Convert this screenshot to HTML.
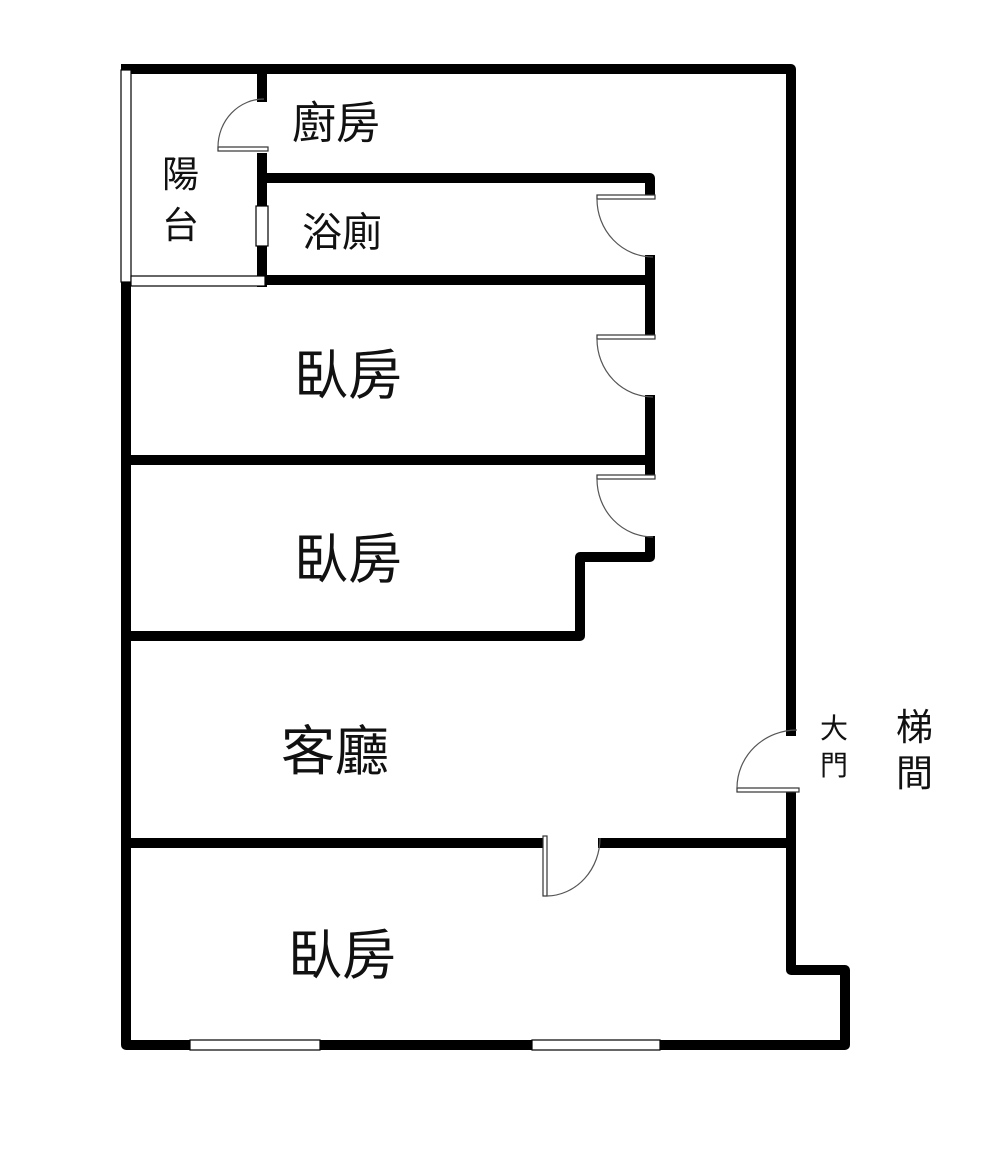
<!DOCTYPE html>
<html><head><meta charset="utf-8"><style>
html,body{margin:0;padding:0;background:#fff;}
svg{display:block}
text{font-family:"Liberation Sans","Noto Sans CJK TC",sans-serif;fill:#111}
</style></head><body>
<svg width="1000" height="1156" viewBox="0 0 1000 1156" xmlns="http://www.w3.org/2000/svg">
<g stroke="#000" stroke-width="10" fill="none" stroke-linecap="square" stroke-linejoin="round">
<path d="M126 69 H791 V731"/>
<path d="M791 796 V970 H845 V1045 H126 V286"/>
<path d="M262 69 V97"/>
<path d="M262 158 V282"/>
<path d="M267 178 H650 V193"/>
<path d="M650 260 V280 H267"/>
<path d="M650 280 V334"/>
<path d="M650 400 V460 H126"/>
<path d="M650 460 V474"/>
<path d="M650 541 V557 H580 V636 H126"/>
<path d="M126 843 H538"/>
<path d="M603 843 H791"/>
</g>
<g fill="#fff" stroke="#000" stroke-width="1.2">
<rect x="121" y="70" width="10" height="212"/>
<rect x="131" y="276" width="134" height="10"/>
<rect x="256" y="206" width="12" height="40"/>
<rect x="190" y="1040" width="130" height="10"/>
<rect x="532" y="1040" width="128" height="10"/>
</g>
<g fill="none" stroke="#555" stroke-width="1.2">
<rect x="218" y="147" width="50" height="4" fill="#fff" stroke="#333"/>
<path d="M218 147 A46 48 0 0 1 264 99"/>
<rect x="597" y="195" width="58" height="4" fill="#fff" stroke="#333"/>
<path d="M597 199 A56 58 0 0 0 653 257"/>
<rect x="597" y="335" width="58" height="4" fill="#fff" stroke="#333"/>
<path d="M597 339 A56 58 0 0 0 653 397"/>
<rect x="597" y="475" width="58" height="4" fill="#fff" stroke="#333"/>
<path d="M597 479 A56 58 0 0 0 653 537"/>
<rect x="737" y="788" width="62" height="4" fill="#fff" stroke="#333"/>
<path d="M737 788 A60 58 0 0 1 797 730"/>
<rect x="543" y="836" width="4" height="60" fill="#fff" stroke="#333"/>
<path d="M547 896 A54 58 0 0 0 600 838"/>
</g>
<text x="292" y="138" font-size="44">廚房</text>
<text x="162" y="187" font-size="37">陽</text>
<text x="162" y="238" font-size="37">台</text>
<text x="302" y="246" font-size="40">浴廁</text>
<text x="294" y="394" font-size="54">臥房</text>
<text x="294" y="578" font-size="54">臥房</text>
<text x="281" y="770" font-size="54">客廳</text>
<text x="288" y="974" font-size="54">臥房</text>
<text x="820" y="738" font-size="28">大</text>
<text x="820" y="775" font-size="28">門</text>
<text x="896" y="740" font-size="37">梯</text>
<text x="896" y="786" font-size="37">間</text>
</svg>
</body></html>
